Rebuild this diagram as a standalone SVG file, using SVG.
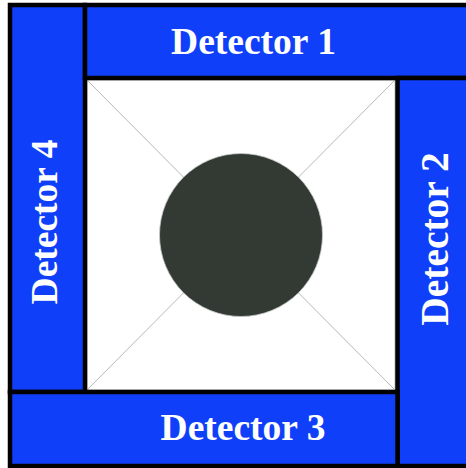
<svg xmlns="http://www.w3.org/2000/svg" width="466" height="468" viewBox="0 0 466 468">
<style>
.det{fill:#103ffa;stroke:#000;stroke-width:4.5}
.lbl{font-family:"Liberation Serif","Times New Roman",serif;font-weight:bold;font-size:37.5px;fill:#fff;text-anchor:middle}
.diag{stroke:#b8b8b8;stroke-width:1}
</style>
<rect x="0" y="0" width="466" height="468" fill="#fff"/>
<g id="chamber">
<rect x="87" y="80" width="308" height="310" fill="#fff" stroke="#bbb" stroke-width="1"/>
</g>
<g id="connectors">
<line class="diag" x1="87" y1="80" x2="395" y2="390"/>
<line class="diag" x1="395" y1="80" x2="87" y2="390"/>
</g>
<g id="sample">
<circle cx="241" cy="235" r="81.5" fill="#323a33" stroke="#c8c8c8" stroke-width="0.8"/>
</g>
<g id="detector4">
<rect class="det" x="10" y="5" width="75" height="387"/>
<text class="lbl" transform="translate(57,222) rotate(-90)">Detector 4</text>
</g>
<g id="detector1">
<rect class="det" x="85" y="5" width="390" height="73"/>
<text class="lbl" x="253.5" y="54">Detector 1</text>
</g>
<g id="detector2">
<rect class="det" x="397.5" y="78" width="80" height="388"/>
<text class="lbl" transform="translate(448,239) rotate(-90)" style="font-size:39.5px">Detector 2</text>
</g>
<g id="detector3">
<rect class="det" x="10" y="392" width="387.5" height="74"/>
<text class="lbl" x="243" y="440">Detector 3</text>
</g>
</svg>
